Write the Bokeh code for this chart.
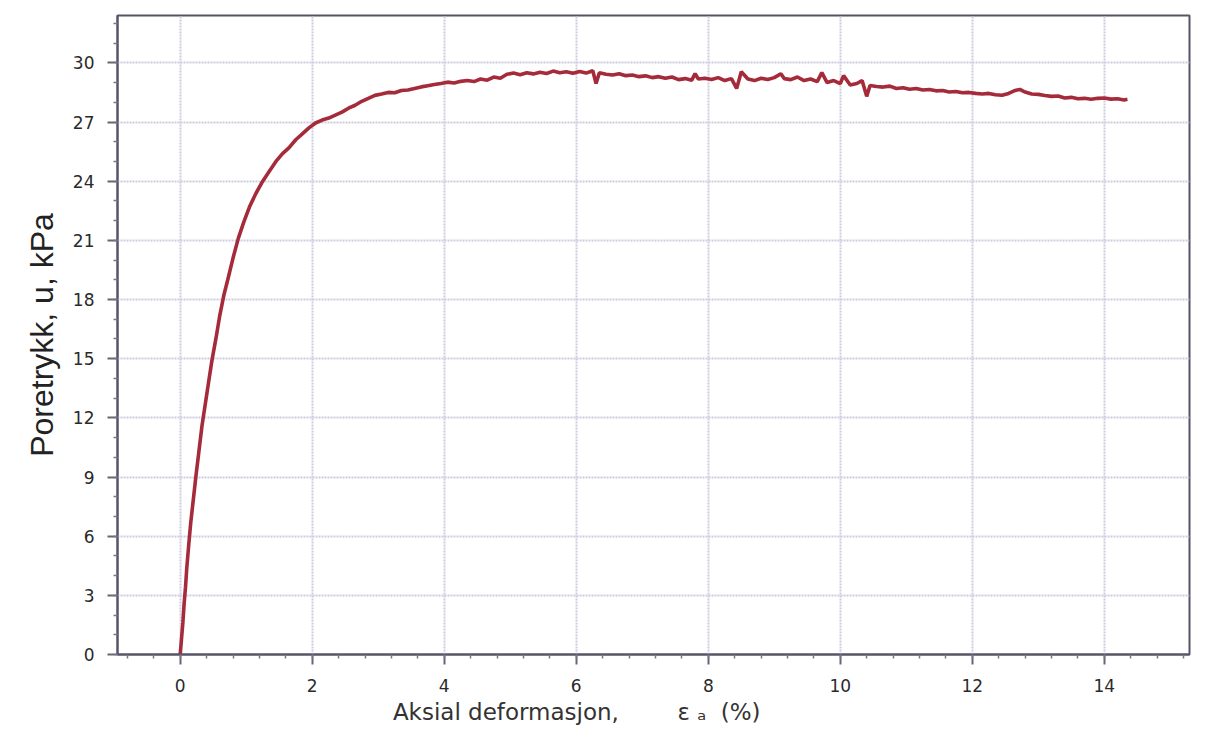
from bokeh.plotting import figure
from bokeh.models import SingleIntervalTicker, Range1d
from bokeh.embed import file_html
from bokeh.resources import INLINE

# --- data (axial strain %, pore pressure kPa) ---
strain_rise = [0, 0.02, 0.04, 0.06, 0.08, 0.1, 0.13, 0.16, 0.2, 0.24, 0.28, 0.33,
               0.38, 0.43, 0.48, 0.54, 0.6, 0.66, 0.72, 0.8, 0.88, 0.96, 1.05,
               1.15, 1.25, 1.35, 1.45, 1.55, 1.65, 1.75, 1.85, 1.95]
pressure_rise = [0, 0.8, 1.6, 2.6, 3.4, 4.4, 5.6, 6.7, 7.9, 9.1, 10.2, 11.6,
                 12.7, 13.8, 14.9, 16.0, 17.2, 18.2, 19.0, 20.1, 21.1, 21.9, 22.7,
                 23.4, 24.0, 24.5, 25.0, 25.4, 25.7, 26.1, 26.4, 26.7]

strain_plateau = [2.05, 2.15, 2.25, 2.35, 2.45, 2.55, 2.65, 2.75, 2.85, 2.95,
                  3.05, 3.15, 3.25, 3.35, 3.45, 3.55, 3.65, 3.75, 3.85, 3.95,
                  4.05, 4.15, 4.25, 4.35, 4.45, 4.55, 4.65, 4.75, 4.85, 4.95,
                  5.05, 5.15, 5.25, 5.35, 5.45, 5.55, 5.65, 5.75, 5.85, 5.95,
                  6.05, 6.15, 6.25, 6.3, 6.35, 6.45, 6.55, 6.65, 6.75, 6.85,
                  6.95, 7.05, 7.15, 7.25, 7.35, 7.45, 7.55, 7.65, 7.75, 7.8,
                  7.85, 7.95, 8.05, 8.15, 8.25, 8.35, 8.43, 8.5, 8.6, 8.7,
                  8.8, 8.9, 9.0, 9.1, 9.15, 9.25, 9.35, 9.45, 9.55, 9.65,
                  9.72, 9.8, 9.9, 10.0, 10.05, 10.15, 10.25, 10.33, 10.4, 10.45,
                  10.55, 10.65, 10.75, 10.85, 10.95, 11.05, 11.15, 11.25, 11.35, 11.45,
                  11.55, 11.65, 11.75, 11.85, 11.95, 12.05, 12.15, 12.25, 12.35, 12.45,
                  12.55, 12.65, 12.72, 12.8, 12.9, 13.0, 13.1, 13.2, 13.3, 13.4,
                  13.5, 13.6, 13.7, 13.8, 13.9, 14.0, 14.1, 14.2, 14.3, 14.35]
pressure_plateau = [26.95, 27.1, 27.2, 27.35, 27.5, 27.7, 27.85, 28.05, 28.2, 28.35,
                    28.42, 28.5, 28.48, 28.6, 28.62, 28.7, 28.78, 28.84, 28.9, 28.95,
                    29.02, 28.98, 29.06, 29.1, 29.05, 29.18, 29.12, 29.28, 29.22, 29.42,
                    29.48, 29.4, 29.5, 29.44, 29.52, 29.46, 29.58, 29.5, 29.55, 29.47,
                    29.56, 29.48, 29.6, 28.95, 29.5, 29.42, 29.38, 29.45, 29.35, 29.38,
                    29.3, 29.34, 29.25, 29.3, 29.22, 29.28, 29.15, 29.2, 29.12, 29.45,
                    29.18, 29.22, 29.15, 29.25, 29.1, 29.2, 28.7, 29.55, 29.18, 29.1,
                    29.22, 29.15, 29.25, 29.45, 29.2, 29.15, 29.28, 29.1, 29.18, 29.05,
                    29.5, 29.0, 29.1, 28.95, 29.35, 28.88, 28.95, 29.1, 28.3, 28.85,
                    28.8, 28.77, 28.82, 28.7, 28.74, 28.66, 28.7, 28.62, 28.65, 28.58,
                    28.6, 28.52, 28.55, 28.48, 28.5, 28.45, 28.42, 28.45, 28.38, 28.36,
                    28.45, 28.6, 28.65, 28.52, 28.42, 28.4, 28.34, 28.3, 28.32, 28.22,
                    28.25, 28.18, 28.2, 28.15, 28.2, 28.22, 28.16, 28.18, 28.12, 28.15]

strain = strain_rise + strain_plateau
pressure = pressure_rise + pressure_plateau

x_tick_interval = 2
y_tick_interval = 3
y_label_text = "Poretrykk, u, kPa"
x_label_text = "Aksial deformasjon,"
x_label_symbol = "ε"
x_label_sub = "\u2090"
x_label_unit = "(%)"

NB = "\u00a0"
# gap between the words and the symbol, plus trailing padding that shifts the
# centred axis title to the left like in the reference
x_axis_title = (x_label_text + NB * 8 + x_label_symbol + NB + x_label_sub
                + NB * 2 + x_label_unit + NB * 21)

W, H = 1208, 736
p = figure(width=W, height=H, output_backend="svg", toolbar_location=None,
           x_range=Range1d(-0.95, 15.29), y_range=Range1d(0, 32.4),
           min_border_left=117, min_border_right=19, min_border_top=15,
           min_border_bottom=82)

p.background_fill_color = "white"
p.border_fill_color = "white"
p.outline_line_color = "#555566"
p.outline_line_width = 2

p.line(strain, pressure, line_color="#a52a3a", line_width=3.6)

for ax, interval, nminor in ((p.xaxis[0], x_tick_interval, 5), (p.yaxis[0], y_tick_interval, 3)):
    ax.ticker = SingleIntervalTicker(interval=interval, num_minor_ticks=nminor)
    ax.axis_line_color = "#555566"
    ax.axis_line_width = 2
    ax.major_tick_line_color = "#666677"
    ax.major_tick_line_width = 2
    ax.minor_tick_line_color = "#777788"
    ax.minor_tick_line_width = 1.5
    ax.major_tick_out = 10
    ax.major_tick_in = 0
    ax.minor_tick_out = 4
    ax.minor_tick_in = 0
    ax.major_label_text_font = "DejaVu Sans"
    ax.major_label_text_font_size = "17px"
    ax.major_label_text_color = "#2a2a2a"
    ax.axis_label_text_font_style = "normal"

p.xaxis.major_label_standoff = 14
p.yaxis.major_label_standoff = 13

p.yaxis.axis_label = y_label_text
p.yaxis.axis_label_text_font = "Liberation Sans"
p.yaxis.axis_label_text_font_size = "32px"
p.yaxis.axis_label_text_color = "#222222"
p.yaxis.axis_label_standoff = 10

p.xaxis.axis_label = x_axis_title
p.xaxis.axis_label_text_font = "DejaVu Sans"
p.xaxis.axis_label_text_font_size = "23px"
p.xaxis.axis_label_text_color = "#333333"
p.xaxis.axis_label_standoff = 4

for g in (p.xgrid[0], p.ygrid[0]):
    g.grid_line_color = "#cdcddf"
    g.grid_line_width = 2
    g.grid_line_dash = "2 1"

open("out.html", "w").write(file_html(p, INLINE))
